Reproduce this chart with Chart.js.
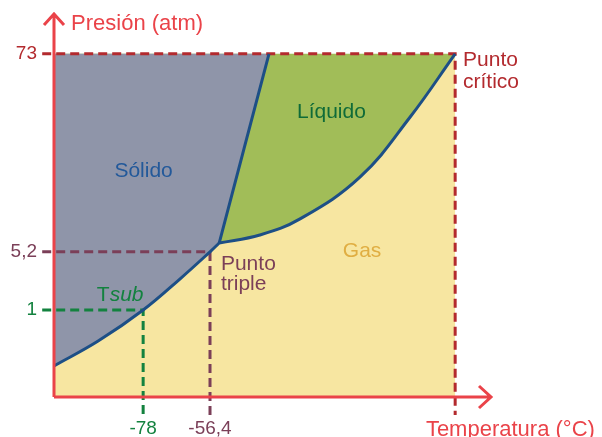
<!DOCTYPE html>
<html lang="es">
<head>
<meta charset="utf-8">
<title>Diagrama de fases</title>
<script src="https://cdn.jsdelivr.net/npm/chart.js@4.4.1/dist/chart.umd.min.js"></script>
<style>
    html, body { margin: 0; padding: 0; background: #fff; }
    canvas { display: block; }
</style>
</head>
<body>
<canvas id="diagrama" width="602" height="437"></canvas>
<script>
        // Ejes esquemáticos (no están a escala): unidades arbitrarias 0-100
        const tempTicks = [20.4, 35.7];
        const tempLabels = ['-78', '-56,4'];
        const presTicks = [22.7, 37.9, 89.6];
        const presLabels = ['1', '5,2', '73'];

        // Curva de sublimación (sólido-gas)
        const sublimX = [0, 10.1, 20.4, 28.8, 35.7, 37.8];
        const sublimY = [8.1, 14.6, 22.7, 30.8, 37.9, 40.2];
        // Curva de fusión (sólido-líquido)
        const fusionX = [37.8, 49.2];
        const fusionY = [40.2, 89.6];
        // Curva de vaporización (líquido-gas)
        const vaporX = [37.8, 47.1, 56.3, 70.0, 81.5, 91.8];
        const vaporY = [40.2, 42.3, 46.5, 57.4, 73.1, 89.6];

        // Punto crítico, punto triple y temperatura de sublimación
        const critico = { x: 91.8, y: 89.6 };
        const triple = { x: 35.7, y: 37.9 };
        const tsub = { x: 20.4, y: 22.7 };

        const rojo = '#ea4349';
        const granate = '#b32a2e';
        const morado = '#7b3f58';
        const verde = '#13823f';
        const azul = '#1d4f86';

        const toPoints = (xs, ys) => xs.map((x, i) => ({ x: x, y: ys[i] }));

        // Límites entre fases (el punto triple repetido deja la esquina marcada)
        const inferior = toPoints(sublimX.concat(vaporX), sublimY.concat(vaporY));
        const solido = toPoints(sublimX.concat(fusionX), sublimY.concat(fusionY));
        const fusion = toPoints(fusionX, fusionY);

        // Líneas discontinuas desde los ejes hasta cada punto
        const guia = (p) => [{ x: -2.7, y: p.y }, { x: p.x, y: p.y }, { x: p.x, y: -4.7 }];

        const curva = (data) => ({
            data: data,
            borderColor: azul,
            borderWidth: 3,
            pointRadius: 0,
            fill: false,
            tension: 0.4
        });
        const discontinua = (data, color) => ({
            data: data,
            borderColor: color,
            borderWidth: 3,
            borderDash: [9, 5],
            pointRadius: 0,
            fill: false,
            tension: 0,
            clip: false
        });
        const zona = (data, color, fill) => ({
            data: data,
            borderWidth: 0,
            borderColor: 'rgba(0,0,0,0)',
            backgroundColor: color,
            pointRadius: 0,
            fill: fill,
            tension: 0.4
        });

        // El primero queda encima
        const datasets = [
            curva(inferior),
            curva(fusion),
            discontinua(guia(tsub), verde),
            discontinua(guia(triple), morado),
            discontinua([{ x: -2.7, y: critico.y }, critico, { x: critico.x, y: -4.7 }], granate),
            zona(inferior, '#f7e6a1', 'origin'),
            zona(solido, '#8f95a9', { value: critico.y }),
            zona([{ x: 0, y: critico.y }, critico], '#a1bd58', 'origin')
        ];

        // Textos del diagrama (posición en unidades del gráfico)
        const rotulos = [
            { text: 'Presión (atm)', x: 3.9, y: 97.4, color: rojo, size: 22 },
            { text: 'Temperatura (°C)', x: 85.1, y: -8.5, color: rojo, size: 22 },
            { text: 'Sólido', x: 20.5, y: 59.0, color: '#23599a', size: 21, align: 'center' },
            { text: 'Líquido', x: 55.6, y: 74.3, color: '#0f6b38', size: 21 },
            { text: 'Gas', x: 66.1, y: 38.0, color: '#e0ae42', size: 21 },
            { text: 'Punto', x: 38.2, y: 34.6, color: morado, size: 21 },
            { text: 'triple', x: 38.2, y: 29.4, color: morado, size: 21 },
            { text: 'Punto', x: 93.6, y: 88.0, color: granate, size: 21 },
            { text: 'crítico', x: 93.6, y: 82.2, color: granate, size: 21 }
        ];

        const fuente = '"Liberation Sans", Arial, sans-serif';

        const decoracion = {
            id: 'decoracion',
            afterDatasetsDraw(chart) {
                const { ctx, chartArea: a, scales } = chart;
                ctx.save();

                // Ejes con flecha
                ctx.strokeStyle = rojo;
                ctx.lineWidth = 3;
                ctx.lineJoin = 'miter';
                ctx.beginPath();
                ctx.moveTo(a.left, a.bottom);
                ctx.lineTo(a.left, a.top);
                ctx.moveTo(a.left - 10, a.top + 11);
                ctx.lineTo(a.left, a.top);
                ctx.lineTo(a.left + 10, a.top + 11);
                ctx.moveTo(a.left, a.bottom);
                ctx.lineTo(a.right, a.bottom);
                ctx.moveTo(a.right - 12, a.bottom - 11);
                ctx.lineTo(a.right, a.bottom);
                ctx.lineTo(a.right - 12, a.bottom + 11);
                ctx.stroke();

                // Rótulos
                ctx.textBaseline = 'middle';
                rotulos.forEach(r => {
                    ctx.font = r.size + 'px ' + fuente;
                    ctx.fillStyle = r.color;
                    ctx.textAlign = r.align || 'left';
                    ctx.fillText(r.text, scales.x.getPixelForValue(r.x), scales.y.getPixelForValue(r.y));
                });

                // Tsub: la T recta y "sub" en cursiva
                const tx = scales.x.getPixelForValue(9.8);
                const ty = scales.y.getPixelForValue(26.5);
                ctx.textAlign = 'left';
                ctx.fillStyle = verde;
                ctx.font = '21px ' + fuente;
                ctx.fillText('T', tx, ty);
                const w = ctx.measureText('T').width;
                ctx.font = 'italic 21px ' + fuente;
                ctx.fillText('sub', tx + w, ty);

                ctx.restore();
            }
        };

        const ctx = document.getElementById('diagrama').getContext('2d');
        const diagrama = new Chart(ctx, {
            type: 'line',
            data: { datasets: datasets },
            plugins: [decoracion],
            options: {
                responsive: false,
                animation: false,
                events: [],
                layout: { padding: { top: 14, right: 111, left: 0, bottom: 0 } },
                plugins: {
                    legend: { display: false },
                    tooltip: { enabled: false },
                    filler: { drawTime: 'beforeDatasetsDraw' }
                },
                scales: {
                    x: {
                        type: 'linear',
                        min: 0,
                        max: 100,
                        afterBuildTicks: s => { s.ticks = tempTicks.map(v => ({ value: v })); },
                        afterFit: s => { s.height = 40; s.paddingLeft = 0; s.paddingRight = 0; },
                        grid: { display: false, drawTicks: false },
                        border: { display: false },
                        ticks: {
                            autoSkip: false,
                            maxRotation: 0,
                            padding: 20,
                            font: { family: fuente, size: 19 },
                            color: c => [verde, morado][c.index],
                            callback: (v, i) => tempLabels[i]
                        }
                    },
                    y: {
                        type: 'linear',
                        min: 0,
                        max: 100,
                        afterBuildTicks: s => { s.ticks = presTicks.map(v => ({ value: v })); },
                        afterFit: s => { s.width = 54; s.paddingTop = 0; s.paddingBottom = 0; },
                        grid: { display: false, drawTicks: false },
                        border: { display: false },
                        ticks: {
                            autoSkip: false,
                            padding: 17,
                            font: { family: fuente, size: 19 },
                            color: c => [verde, morado, granate][c.index],
                            callback: (v, i) => presLabels[i]
                        }
                    }
                }
            }
        });
</script>
</body>
</html>
